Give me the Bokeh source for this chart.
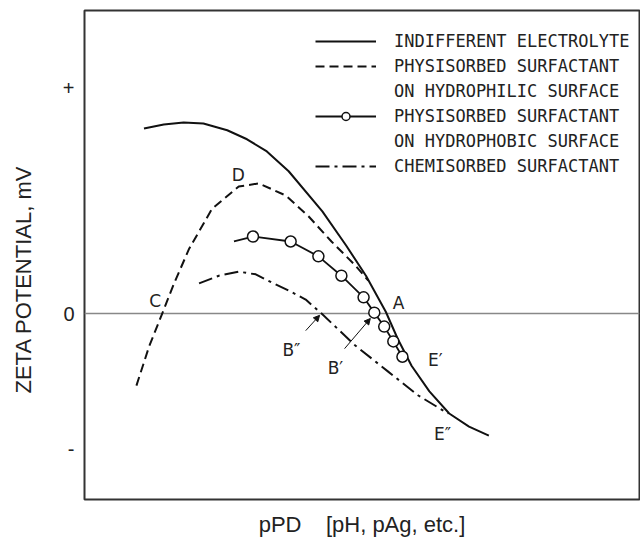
from bokeh.plotting import figure
from bokeh.models import (ColumnDataSource, FixedTicker, Span, Legend, LegendItem,
                          Arrow, NormalHead)
from bokeh.core.properties import value
from bokeh.embed import file_html
from bokeh.resources import INLINE

# ---- data (pPD units on x, zeta potential in mV-like units on y) ----
# Indifferent electrolyte (solid)
ie_x = [1.5, 2.0, 2.5, 3.0, 3.6, 4.1, 4.6, 5.15, 6.0, 6.6, 7.1, 7.6, 7.9, 8.25, 8.7, 9.2, 9.7, 10.2]
ie_y = [41.1, 42.0, 42.4, 42.2, 40.7, 38.7, 36.0, 31.6, 22.7, 15.1, 8.4, 0.4, -5.6, -11.6, -17.3, -22.2, -25.1, -27.1]

# Physisorbed surfactant on hydrophilic surface (dashed)
hl_x = [1.31, 1.63, 1.96, 2.26, 2.64, 3.22, 3.89, 4.40, 5.08, 5.65, 6.23, 6.83, 7.16]
hl_y = [-16.0, -7.3, 0.0, 6.7, 14.4, 23.3, 28.2, 28.9, 26.2, 21.6, 16.0, 10.7, 7.3]

# Physisorbed surfactant on hydrophobic surface (line with open circles)
hb_x = [3.77, 4.25, 5.20, 5.90, 6.48, 7.04, 7.31, 7.56, 7.79, 8.02]
hb_y = [16.0, 17.1, 16.0, 12.7, 8.4, 3.6, 0.2, -2.9, -6.2, -9.6]
hb_mx = hb_x[1:]
hb_my = hb_y[1:]

# Chemisorbed surfactant (dash-dot)
cs_x = [2.89, 3.39, 3.89, 4.32, 4.72, 5.15, 5.58, 5.98, 6.41, 6.83, 7.66, 8.42, 9.17]
cs_y = [6.7, 8.4, 9.3, 8.7, 6.9, 5.1, 3.1, 0.0, -3.6, -7.1, -12.9, -18.2, -22.2]

# Point labels
lbl_text = ["D", "C", "A", "B\u2033", "B\u2032", "E\u2032", "E\u2033"]
lbl_x = [3.88, 1.78, 7.92, 5.22, 6.33, 8.85, 9.03]
lbl_y = [30.7, 2.7, 2.4, -8.2, -12.2, -10.4, -26.7]

# Leader arrows (B'' and B')
arr_x0 = [5.58, 6.56]
arr_y0 = [-3.8, -7.8]
arr_x1 = [5.93, 7.21]
arr_y1 = [-0.4, -1.1]

# y tick labels
y_ticks = [50, 0, -30]
y_tick_labels = {50: "+", 0: "0", -30: "-"}

legend_labels = ["INDIFFERENT ELECTROLYTE", "PHYSISORBED SURFACTANT", "ON HYDROPHILIC SURFACE",
                 "PHYSISORBED SURFACTANT", "ON HYDROPHOBIC SURFACE", "CHEMISORBED SURFACTANT"]

p = figure(width=640, height=539, x_range=(0, 14), y_range=(-41.3, 67.3),
           output_backend="svg", toolbar_location=None,
           min_border_left=84, min_border_right=1, min_border_top=10, min_border_bottom=40)

p.grid.visible = False
p.background_fill_color = "white"
p.border_fill_color = "white"
p.outline_line_color = "#333333"
p.outline_line_width = 2

# axes
p.yaxis.ticker = FixedTicker(ticks=y_ticks)
p.yaxis.major_label_overrides = y_tick_labels
p.yaxis.major_tick_line_color = None
p.yaxis.minor_tick_line_color = None
p.yaxis.major_tick_out = 0
p.yaxis.major_tick_in = 0
p.yaxis.axis_line_color = None
p.yaxis.major_label_standoff = 10
p.yaxis.major_label_text_font = "Liberation Sans"
p.yaxis.major_label_text_font_size = "20px"
p.yaxis.major_label_text_color = "#222222"
p.yaxis.major_label_orientation = "horizontal"
p.yaxis.axis_label = "ZETA POTENTIAL, mV" + "\u00a0" * 8
p.yaxis.axis_label_text_font = "Liberation Sans"
p.yaxis.axis_label_text_font_size = "22px"
p.yaxis.axis_label_text_font_style = "normal"
p.yaxis.axis_label_text_color = "#222222"
p.yaxis.axis_label_standoff = 24

p.xaxis.ticker = FixedTicker(ticks=[])
p.xaxis.major_tick_line_color = None
p.xaxis.minor_tick_line_color = None
p.xaxis.major_tick_out = 0
p.xaxis.major_tick_in = 0
p.xaxis.major_label_standoff = 0
p.xaxis.axis_line_color = None
p.xaxis.axis_label = "pPD\u00a0\u00a0\u00a0 [pH, pAg, etc.]"
p.xaxis.axis_label_text_font = "Liberation Sans"
p.xaxis.axis_label_text_font_size = "22px"
p.xaxis.axis_label_text_font_style = "normal"
p.xaxis.axis_label_text_color = "#222222"
p.xaxis.axis_label_standoff = 12

# zero line
p.add_layout(Span(location=0, dimension="width", line_color="#888888", line_width=1.5,
                  level="underlay"))

col = "#111111"
r_ie = p.line(ie_x, ie_y, line_color=col, line_width=2)
r_hl = p.line(hl_x, hl_y, line_color=col, line_width=2, line_dash="9 5")
r_hb = p.line(hb_x, hb_y, line_color=col, line_width=1.8)
r_hbm = p.scatter(hb_mx, hb_my, marker="circle", size=11, fill_color="white",
                  line_color=col, line_width=1.5)
r_cs = p.line(cs_x, cs_y, line_color=col, line_width=2, line_dash="14 5 3 5")

# point labels
lsrc = ColumnDataSource(dict(x=lbl_x, y=lbl_y, t=lbl_text))
p.text(x="x", y="y", text="t", source=lsrc, text_font=value("DejaVu Sans"),
       text_font_size="17px", text_align="center", text_baseline="middle", text_color="#222222")

# leader arrows
asrc = ColumnDataSource(dict(x0=arr_x0, y0=arr_y0, x1=arr_x1, y1=arr_y1))
p.add_layout(Arrow(x_start="x0", y_start="y0", x_end="x1", y_end="y1", source=asrc,
                   line_color=col, line_width=1,
                   end=NormalHead(size=6, fill_color=col, line_color=col)))

items = [
    LegendItem(label=legend_labels[0], renderers=[r_ie]),
    LegendItem(label=legend_labels[1], renderers=[r_hl]),
    LegendItem(label=legend_labels[2], renderers=[]),
    LegendItem(label=legend_labels[3], renderers=[r_hb, r_hbm]),
    LegendItem(label=legend_labels[4], renderers=[]),
    LegendItem(label=legend_labels[5], renderers=[r_cs]),
]
legend = Legend(items=items, location=(231, 323), padding=0, margin=0,
                spacing=5, glyph_width=61, glyph_height=20, label_height=20,
                label_standoff=18, border_line_color=None, background_fill_alpha=0,
                label_text_font="DejaVu Sans Mono", label_text_font_size="17px",
                label_text_color="#222222")
p.add_layout(legend)

open("out.html", "w").write(file_html(p, INLINE))
